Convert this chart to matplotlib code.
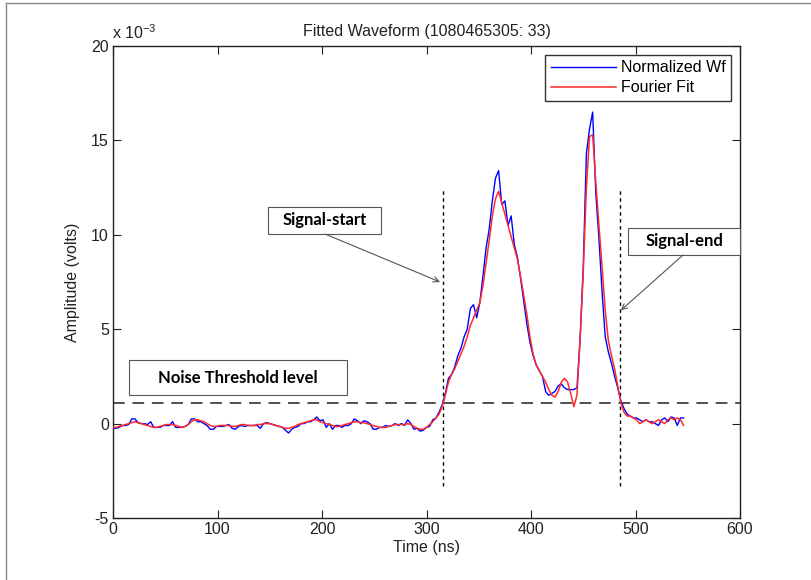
import numpy as np
import matplotlib
matplotlib.use("Agg")
import matplotlib.pyplot as plt
from matplotlib.lines import Line2D
from matplotlib.patches import Rectangle

# ---------------- data (amplitudes in units of 1e-3 V) ----------------
time_ns = np.arange(0, 547, 3)

normalized_wf = [
    -0.25, -0.25, -0.2, -0.1, -0.1, -0.05, 0.25, 0.25, 0.05, 0.0,
    0.0, -0.05, 0.1, -0.2, -0.2, -0.2, -0.1, -0.1, -0.1, 0.1,
    -0.2, -0.2, -0.2, -0.15, -0.05, 0.25, 0.25, 0.1, 0.1, 0.0,
    -0.1, -0.3, -0.3, -0.15, -0.15, -0.15, -0.1, -0.05, -0.25, -0.3,
    -0.15, -0.1, -0.15, -0.1, -0.1, -0.1, -0.1, -0.25, 0.0, 0.05,
    0.0, -0.05, -0.1, -0.15, -0.2, -0.35, -0.5, -0.3, -0.2, -0.15,
    0.0, 0.0, 0.1, 0.1, 0.2, 0.35, 0.15, 0.2, -0.2, 0.0,
    -0.3, -0.1, -0.1, -0.2, -0.1, -0.1, 0.0, 0.25, 0.15, 0.0,
    0.15, 0.1, 0.0, -0.3, -0.3, -0.2, -0.2, -0.1, -0.15, -0.1,
    0.0, -0.1, 0.0, -0.1, 0.2, 0.0, -0.3, -0.25, -0.4, -0.35,
    -0.2, -0.15, 0.2, 0.3, 0.6, 1.0, 1.6, 2.4, 2.6, 3.0,
    3.6, 4.0, 4.6, 5.0, 6.1, 6.3, 5.6, 6.4, 7.8, 9.3,
    10.3, 11.8, 13.0, 13.4, 11.6, 11.8, 10.5, 11.0, 9.5, 8.8,
    7.7, 6.5, 5.3, 4.3, 3.6, 3.1, 2.8, 2.5, 1.7, 1.5,
    1.6, 1.7, 2.0, 2.1, 1.9, 1.8, 1.8, 1.8, 1.9, 4.5,
    8.3, 14.3, 15.6, 16.5, 12.2, 9.8, 7.0, 4.6, 3.8, 3.2,
    2.5, 1.9, 1.2, 0.8, 0.5, 0.4, 0.3, 0.3, 0.2, 0.1,
    0.2, 0.1, 0.1, 0.0, -0.1, 0.2, 0.3, 0.1, 0.35, 0.3,
    -0.1, 0.3, 0.3,
]

fourier_fit = [
    -0.2, -0.2, -0.15, -0.1, -0.05, 0.0, 0.05, 0.1, 0.05, 0.0,
    -0.05, -0.1, -0.15, -0.2, -0.2, -0.15, -0.1, -0.05, -0.05, -0.05,
    -0.1, -0.15, -0.2, -0.15, -0.05, 0.1, 0.2, 0.2, 0.15, 0.1,
    0.0, -0.1, -0.15, -0.15, -0.1, -0.1, -0.1, -0.1, -0.15, -0.15,
    -0.1, -0.05, -0.05, -0.1, -0.1, -0.1, -0.05, -0.05, 0.0, 0.0,
    0.0, -0.05, -0.1, -0.15, -0.2, -0.25, -0.25, -0.2, -0.15, -0.05,
    0.0, 0.05, 0.1, 0.15, 0.2, 0.2, 0.1, 0.05, 0.0, -0.05,
    -0.1, -0.15, -0.15, -0.1, -0.05, 0.0, 0.05, 0.1, 0.1, 0.05,
    0.05, 0.0, -0.05, -0.1, -0.15, -0.2, -0.2, -0.2, -0.15, -0.1,
    -0.05, -0.05, -0.05, -0.05, 0.0, -0.05, -0.15, -0.25, -0.3, -0.3,
    -0.2, -0.05, 0.1, 0.3, 0.5, 0.9, 1.5, 2.2, 2.6, 2.9,
    3.3, 3.7, 4.1, 4.6, 5.2, 5.6, 6.0, 6.4, 7.3, 8.5,
    9.7, 11.0, 11.9, 12.3, 11.7, 11.1, 10.5, 9.9, 9.3, 8.7,
    7.8, 6.8, 5.8, 4.6, 3.7, 3.1, 2.8, 2.5, 2.2, 1.8,
    1.5, 1.4, 1.7, 2.2, 2.4, 2.2, 1.6, 0.9, 1.5, 4.5,
    8.0, 12.5, 15.2, 15.3, 12.8, 10.5, 8.3, 6.0, 4.4, 3.6,
    2.9, 2.0, 1.1, 0.6, 0.4, 0.4, 0.3, 0.2, 0.0, 0.1,
    0.2, 0.1, 0.0, 0.1, 0.2, 0.1, 0.0, 0.2, 0.3, 0.2,
    0.3, 0.2, -0.1,
]

noise_threshold = 1.1
signal_start = 316
signal_end = 485
marker_span = [-3.3, 12.5]

x_ticks = [0, 100, 200, 300, 400, 500, 600]
y_ticks = [-5, 0, 5, 10, 15, 20]

# ---------------- figure ----------------
plt.rcParams['font.family'] = ['Liberation Sans', 'DejaVu Sans']
plt.rcParams['axes.unicode_minus'] = False
fig = plt.figure(figsize=(8.11, 5.80), dpi=100)
ax = fig.add_axes([113/811, 1-518/580, (740-113)/811, (518-46)/580])

ax.plot(time_ns, normalized_wf, color='#0000ff', lw=1.0,
        label='Normalized Wf', zorder=3)
ax.plot(time_ns, fourier_fit, color='#ff2a2a', lw=1.1, label='Fourier Fit', zorder=4)

ax.axhline(noise_threshold, color='#505050', lw=1.4, ls=(0, (6, 4)), zorder=2)
for xv in (signal_start, signal_end):
    ax.plot([xv, xv], marker_span, color='black', lw=1.0, ls=(0, (2.5, 2.5)), zorder=2)

ax.set_xlim(0, 600)
ax.set_ylim(-5, 20)
ax.set_xticks(x_ticks)
ax.set_yticks(y_ticks)
ax.tick_params(direction='in', length=6, width=0.8, top=True, right=True,
               labelsize=11.5, colors='#222222', pad=3)
for s in ax.spines.values():
    s.set_color('#222222')
    s.set_linewidth(1.0)

ax.set_xlabel('Time (ns)', fontsize=11.5, color='#222222', labelpad=2)
ax.set_ylabel('Amplitude (volts)', fontsize=11.5, color='#222222', labelpad=8)
ax.set_title('Fitted Waveform (1080465305: 33)', fontsize=11.5, color='#222222', pad=7)
fig.text(112/811, 1-33/580, r'x 10$^{\mathregular{-3}}$', fontsize=11.5, color='#222222',
         ha='left', va='center')

leg = ax.legend(loc='upper right', fontsize=11.5, frameon=True, fancybox=False,
                edgecolor='black', borderaxespad=0.55, handlelength=4.1,
                handletextpad=0.3, borderpad=0.35, labelspacing=0.3)
leg.get_frame().set_linewidth(1.0)

afont = dict(family=['Lato', 'DejaVu Sans'], weight='bold', fontsize=12, color='black')
box_kw = dict(fc='white', ec='#555555', lw=0.8, zorder=5)
arrow_kw = dict(arrowstyle='->', color='#555555', lw=0.8, shrinkA=0, shrinkB=0)

# Signal-start box + arrow
ax.add_patch(Rectangle((148.3, 10.04), 108.2, 1.43, **box_kw))
ax.text(202.5, 10.76, 'Signal-start', ha='center', va='center', zorder=6, **afont)
ax.annotate('', xy=(313, 7.5), xytext=(203, 10.04), arrowprops=arrow_kw, zorder=5)

# Signal-end box + arrow
ax.add_patch(Rectangle((492.8, 8.93), 107.2, 1.43, clip_on=False, **box_kw))
ax.text(546.5, 9.66, 'Signal-end', ha='center', va='center', zorder=6, **afont)
ax.annotate('', xy=(486, 6.0), xytext=(545.5, 8.93), arrowprops=arrow_kw, zorder=5)

# Noise threshold box
ax.add_patch(Rectangle((15.3, 1.51), 208.7, 1.86, **box_kw))
ax.text(119.6, 2.44, 'Noise Threshold level', ha='center', va='center', zorder=6, **afont)

# outer frame (left and top edges)
fig.add_artist(Line2D([6/811, 6/811], [0, 1-3/580], color='#888888', lw=1.0))
fig.add_artist(Line2D([6/811, 1], [1-3/580, 1-3/580], color='#888888', lw=1.0))

fig.savefig('out.png', dpi=100)
